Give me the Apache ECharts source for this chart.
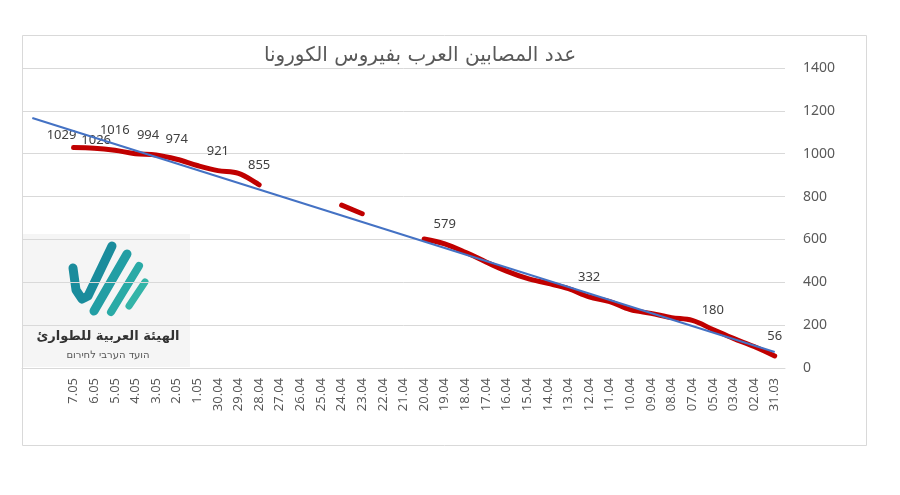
<!DOCTYPE html>
<html>
<head>
<meta charset="utf-8">
<script src="https://cdn.jsdelivr.net/npm/echarts@6/dist/echarts.min.js"></script>
<style>
  html, body { margin: 0; padding: 0; background: #fff; }
  #chart { width: 900px; height: 495px; }
</style>
</head>
<body>
<div id="chart"></div>
<script>
// التواريخ (من اليمين لليسار زمنياً)
const dates = ['7.05', '6.05', '5.05', '4.05', '3.05', '2.05', '1.05', '30.04', '29.04', '28.04', '27.04', '26.04',
  '25.04', '24.04', '23.04', '22.04', '21.04', '20.04', '19.04', '18.04', '17.04', '16.04', '15.04', '14.04',
  '13.04', '12.04', '11.04', '10.04', '09.04', '08.04', '07.04', '05.04', '03.04', '02.04', '31.03'];
// عدد المصابين
const cases = [1029, 1026, 1016, 1000, 994, 974, 945, 921, 908, 855, null, null,
  null, 760, 720, null, null, 602, 579, 540, 495, 452, 418, 395,
  370, 332, 310, 272, 255, 235, 222, 180, 138, 100, 56];
// التواريخ التي تظهر عليها القيم
const labelled = ['7.05', '6.05', '5.05', '3.05', '2.05', '30.04', '28.04', '19.04', '12.04', '05.04', '31.03'];
// خط الاتجاه: بدايته (قبل تاريخين) ونهايته
const trendStart = 1167;
const trendEnd = 75;
const yTicks = [0, 200, 400, 600, 800, 1000, 1200, 1400];

// مكان إضافي لخط الاتجاه قبل أول تاريخ
const lead = 2;
const cats = Array(lead).fill('').concat(dates);

const labelOffsets = {
  '7.05': [-12, 7],
  '6.05': [2, 12],
  '3.05': [-8, 0],
};

const caseData = Array(lead).fill(null).concat(cases.map((v, i) => {
  if (v == null) return null;
  const d = dates[i];
  if (labelled.indexOf(d) < 0) return v;
  return {
    value: v,
    label: { show: true, offset: labelOffsets[d] || [0, 0] },
  };
}));

const trendData = cats.map((c, i) => {
  if (i === 0) return trendStart;
  if (i === cats.length - 1) return trendEnd;
  return null;
});

const myChart = echarts.init(document.getElementById('chart'));
myChart.setOption({
  backgroundColor: '#fff',
  animation: false,
  textStyle: { fontFamily: 'Noto Sans' },
  title: {
    text: 'عدد المصابين العرب بفيروس الكورونا',
    left: 415,
    top: 41,
    textAlign: 'center',
    textStyle: {
      fontFamily: 'DejaVu Sans',
      fontSize: 20,
      fontWeight: 'normal',
      color: '#595959',
    },
  },
  grid: {
    left: 22,
    right: 115,
    top: 68,
    bottom: 127,
    containLabel: false,
  },
  xAxis: {
    type: 'category',
    data: cats,
    boundaryGap: true,
    axisLine: { show: true, lineStyle: { color: '#d9d9d9', width: 1 } },
    axisTick: { show: false },
    axisLabel: {
      rotate: 90,
      interval: 0,
      margin: 10,
      fontSize: 13,
      color: '#595959',
    },
  },
  yAxis: {
    type: 'value',
    position: 'right',
    min: yTicks[0],
    max: yTicks[yTicks.length - 1],
    interval: 200,
    axisLine: { show: false },
    axisTick: { show: false },
    axisLabel: {
      margin: 18,
      fontSize: 14,
      color: '#595959',
      formatter: (v) => String(v),
    },
    splitLine: { lineStyle: { color: '#d9d9d9', width: 1 } },
  },
  series: [
    {
      name: 'المصابين',
      type: 'line',
      data: caseData,
      smooth: 0.35,
      connectNulls: false,
      showSymbol: true,
      symbol: 'circle',
      symbolSize: 0,
      lineStyle: { color: '#C00000', width: 5, cap: 'round', join: 'round' },
      itemStyle: { color: '#C00000' },
      label: {
        show: false,
        position: 'top',
        distance: 13,
        fontSize: 13,
        color: '#404040',
      },
      z: 2,
    },
    {
      name: 'الاتجاه',
      type: 'line',
      data: trendData,
      connectNulls: true,
      showSymbol: false,
      symbol: 'none',
      lineStyle: { color: '#4472C4', width: 2 },
      z: 3,
    },
  ],
  graphic: [
    // إطار الرسم
    {
      type: 'rect',
      shape: { x: 22.5, y: 35.5, width: 844, height: 410 },
      style: { fill: 'none', stroke: '#d9d9d9', lineWidth: 1 },
      z: 0,
    },
    // الشعار
    {
      type: 'group',
      z: 10,
      children: [
        {
          type: 'rect',
          shape: { x: 23, y: 234, width: 167, height: 133 },
          style: { fill: '#f5f5f5' },
        },
        {
          type: 'polyline',
          shape: { points: [[73, 268], [76, 290], [82, 299], [88, 296], [112, 246]] },
          style: { stroke: '#1a8c9c', lineWidth: 9, lineCap: 'round', lineJoin: 'round', fill: 'none' },
        },
        {
          type: 'line',
          shape: { x1: 94, y1: 311, x2: 127, y2: 254 },
          style: { stroke: '#229ea4', lineWidth: 9, lineCap: 'round' },
        },
        {
          type: 'line',
          shape: { x1: 111, y1: 312, x2: 139, y2: 266 },
          style: { stroke: '#2aaaa6', lineWidth: 8, lineCap: 'round' },
        },
        {
          type: 'line',
          shape: { x1: 129, y1: 306, x2: 145, y2: 282 },
          style: { stroke: '#34b4a8', lineWidth: 7, lineCap: 'round' },
        },
        {
          type: 'text',
          style: {
            x: 108, y: 337,
            text: 'الهيئة العربية للطوارئ',
            align: 'center', verticalAlign: 'middle',
            font: 'bold 13px "DejaVu Sans"',
            fill: '#333',
          },
        },
        {
          type: 'text',
          style: {
            x: 108, y: 355,
            text: 'הועד הערבי לחירום',
            align: 'center', verticalAlign: 'middle',
            font: '10px "DejaVu Sans"',
            fill: '#555',
          },
        },
      ],
    },
  ],
});

window.addEventListener('resize', () => {
  myChart.resize();
});
</script>
</body>
</html>
